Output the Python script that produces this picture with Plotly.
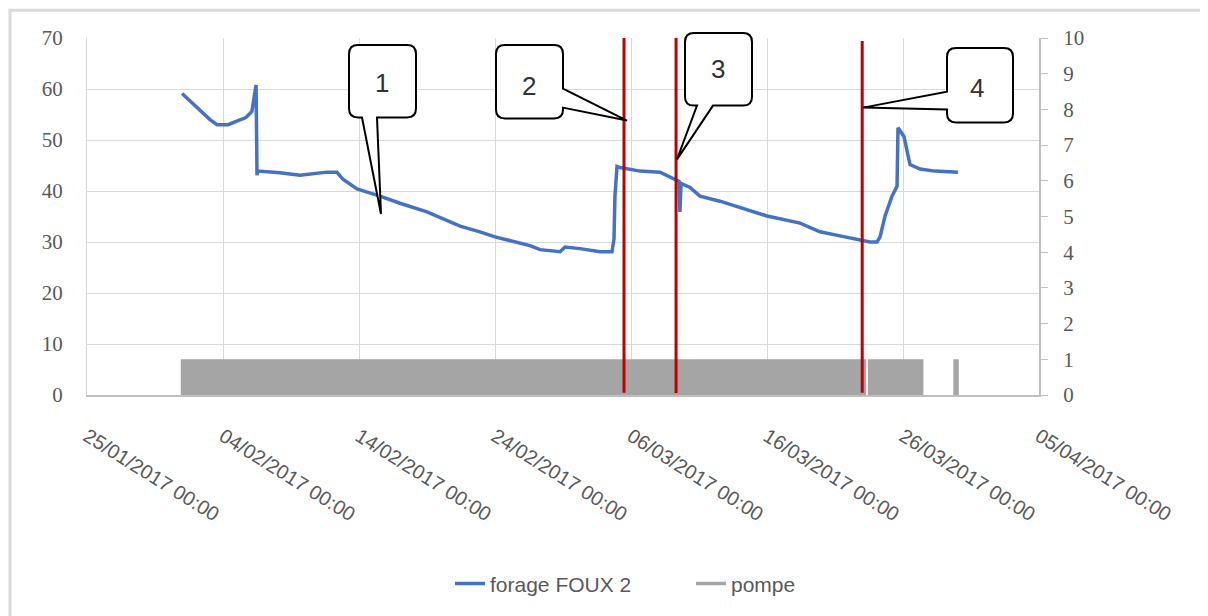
import plotly.graph_objects as go

# ---------------- data ----------------
forage_dates = [
    "2017-01-31 23:45", "2017-02-01 13:40", "2017-02-02 07:25", "2017-02-03 01:00",
    "2017-02-03 13:30", "2017-02-04 09:00", "2017-02-05 02:30", "2017-02-05 16:30",
    "2017-02-06 03:00", "2017-02-06 06:45", "2017-02-06 10:20", "2017-02-06 12:00",
    "2017-02-06 13:40", "2017-02-08 04:30", "2017-02-09 16:00", "2017-02-11 15:30",
    "2017-02-12 09:00", "2017-02-12 19:40", "2017-02-13 20:30", "2017-02-15 13:00",
    "2017-02-17 00:15", "2017-02-19 00:00", "2017-02-21 10:20", "2017-02-22 21:30",
    "2017-02-24 00:00", "2017-02-26 13:40", "2017-02-27 07:30", "2017-02-28 18:45",
    "2017-03-01 03:30", "2017-03-02 06:00", "2017-03-03 17:15", "2017-03-04 14:25",
    "2017-03-04 18:00", "2017-03-04 19:40", "2017-03-04 23:20", "2017-03-05 04:30",
    "2017-03-06 16:00", "2017-03-08 03:10", "2017-03-08 21:00", "2017-03-09 12:45",
    "2017-03-09 14:20", "2017-03-09 16:20", "2017-03-10 08:10", "2017-03-11 01:40",
    "2017-03-12 13:00", "2017-03-14 00:15", "2017-03-16 00:00", "2017-03-18 10:20",
    "2017-03-19 21:30", "2017-03-21 08:50", "2017-03-22 23:45", "2017-03-23 13:40",
    "2017-03-24 02:10", "2017-03-24 07:30", "2017-03-24 16:20", "2017-03-25 04:35",
    "2017-03-25 13:30", "2017-03-25 15:10", "2017-03-26 01:40", "2017-03-26 07:00",
    "2017-03-26 12:20", "2017-03-27 06:00", "2017-03-28 08:30", "2017-03-30 01:00",
]
forage_values = [
    59.1, 57.7, 56.0, 54.0,
    53.0, 53.0, 53.8, 54.4,
    55.6, 57.9, 60.8, 43.1,
    43.9, 43.6, 43.1, 43.7,
    43.7, 42.3, 40.4, 39.0,
    37.6, 35.9, 33.1, 32.0,
    31.0, 29.3, 28.5, 28.1,
    29.0, 28.7, 28.1, 28.1,
    30.6, 39.0, 44.8, 44.6,
    43.9, 43.7, 42.7, 41.9,
    35.9, 41.5, 40.7, 39.0,
    38.0, 36.8, 35.1, 33.7,
    32.0, 31.2, 30.4, 30.0,
    30.0, 31.0, 35.1, 39.0,
    40.9, 52.4, 50.7, 47.6,
    45.2, 44.3, 43.9, 43.7,
]

pompe_dates = ["2017-01-31 21:30", "2017-03-23 07:00", "2017-03-23 10:00",
               "2017-03-27 12:00", "2017-03-29 16:50", "2017-03-30 02:30"]
pompe_values = [1, 0, 1, 0, 1, 0]

event_dates = ["2017-03-05 11:40", "2017-03-09 07:30", "2017-03-23 00:00"]
event_labels = ["1", "2", "3", "4"]

x_range = ["2017-01-25", "2017-04-05"]
y_left_range = [0, 70]
y_right_range = [0, 10]

# ---------------- layout helpers (page pixel coords -> paper) ----------------
OFF = 8                      # html body margin
FW, FH = 1208 - OFF, 616 - OFF
L, R, T, B = 87, 1039, 38, 397   # plot area in page pixels


def px(x):
    return (x - L) / (R - L)


def py(y):
    return (B - y) / (B - T)


def callout(x0, y0, x1, y1, side, b0, b1, tip, r=9):
    pts = []
    pts.append(("M", (x0 + r, y0)))
    pts.append(("L", (x1 - r, y0)))
    pts.append(("Q", (x1, y0), (x1, y0 + r)))
    if side == "right":
        pts += [("L", (x1, b0)), ("L", tip), ("L", (x1, b1))]
    pts.append(("L", (x1, y1 - r)))
    pts.append(("Q", (x1, y1), (x1 - r, y1)))
    if side == "bottom":
        pts += [("L", (b1, y1)), ("L", tip), ("L", (b0, y1))]
    pts.append(("L", (x0 + r, y1)))
    pts.append(("Q", (x0, y1), (x0, y1 - r)))
    if side == "left":
        pts += [("L", (x0, b1)), ("L", tip), ("L", (x0, b0))]
    pts.append(("L", (x0, y0 + r)))
    pts.append(("Q", (x0, y0), (x0 + r, y0)))
    s = ""
    for cmd, *ps in pts:
        s += cmd + " " + " ".join(f"{px(a):.5f},{py(b):.5f}" for a, b in ps) + " "
    return s + "Z"


grey = "#595959"

fig = go.Figure()
fig.add_trace(go.Scatter(
    x=pompe_dates, y=pompe_values, yaxis="y2", mode="lines",
    line=dict(shape="hv", width=0, color="#A5A5A5"),
    fill="tozeroy", fillcolor="#A5A5A5", showlegend=False, hoverinfo="skip"))
fig.add_trace(go.Scatter(
    x=forage_dates, y=forage_values, mode="lines", name="forage FOUX 2",
    line=dict(color="#4472C4", width=3.5)))
fig.add_trace(go.Scatter(
    x=[None], y=[None], mode="lines", name="pompe", yaxis="y2",
    line=dict(color="#A5A5A5", width=3.5)))

shapes = []
# outer chart border
shapes.append(dict(type="rect", xref="paper", yref="paper",
                   x0=px(10), y0=py(10), x1=px(1240), y1=py(650),
                   line=dict(color="#D9D9D9", width=3), layer="below"))
# red event lines
red_tops = [70, 70.5, 69.4]
red_bottoms = [0.45, 0.4, 0.45]
for d, t, b in zip(event_dates, red_tops, red_bottoms):
    shapes.append(dict(type="line", xref="x", yref="y", x0=d, x1=d, y0=b, y1=t,
                       line=dict(color="#C00000", width=3)))

# callouts
boxes = [
    (349, 45, 416, 118, "bottom", 362, 377, (381, 215)),
    (496, 45, 563, 119, "right", 89, 108, (627, 121)),
    (685, 33, 752, 106, "bottom", 697, 713, (677, 160)),
    (947, 48, 1013, 123, "left", 92, 110, (863, 108)),
]
label_pos = [(373, 66), (529, 69), (718, 52), (986, 71)]
annotations = []
for bx, lab, lp in zip(boxes, event_labels, label_pos):
    shapes.append(dict(type="path", xref="paper", yref="paper",
                       path=callout(*bx), fillcolor="white",
                       line=dict(color="black", width=2)))
    annotations.append(dict(xref="paper", yref="paper", x=px(lp[0]), y=py(lp[1]),
                            text=lab, showarrow=False,
                            font=dict(family="Liberation Sans", size=26, color="#333333")))

fig.update_layout(
    width=FW, height=FH,
    margin=dict(l=L - OFF, r=FW - (R - OFF), t=T - OFF, b=FH - (B - OFF)),
    plot_bgcolor="white", paper_bgcolor="white",
    font=dict(family="Liberation Sans", color=grey),
    shapes=shapes, annotations=annotations,
    xaxis=dict(type="date", range=x_range, tick0=x_range[0], dtick=10 * 86400000,
               tickformat="%d/%m/%Y %H:%M", tickangle=32,
               showgrid=True, gridcolor="#D9D9D9", gridwidth=1,
               showline=True, linecolor="#BFBFBF", linewidth=2,
               ticks="", ticklabelstandoff=20,
               tickfont=dict(family="Liberation Sans", size=20, color=grey)),
    yaxis=dict(range=y_left_range, dtick=10, showgrid=True, gridcolor="#D9D9D9",
               gridwidth=1, zeroline=False, showline=True, linecolor="#D9D9D9",
               linewidth=1, ticks="", ticklabelstandoff=19,
               tickfont=dict(family="Liberation Serif", size=21, color=grey)),
    yaxis2=dict(range=y_right_range, dtick=1, overlaying="y", side="right",
                showgrid=False, zeroline=False, showline=True, linecolor="#BFBFBF",
                linewidth=2, ticks="outside", ticklen=7, tickcolor="#BFBFBF",
                ticklabelstandoff=11,
                tickfont=dict(family="Liberation Serif", size=21, color=grey)),
    legend=dict(orientation="h", x=px(450), xanchor="left", y=py(587),
                yanchor="middle", font=dict(family="Liberation Sans", size=21, color=grey),
                entrywidth=196, entrywidthmode="pixels"),
    showlegend=True,
)

fig.write_html("out.html")
